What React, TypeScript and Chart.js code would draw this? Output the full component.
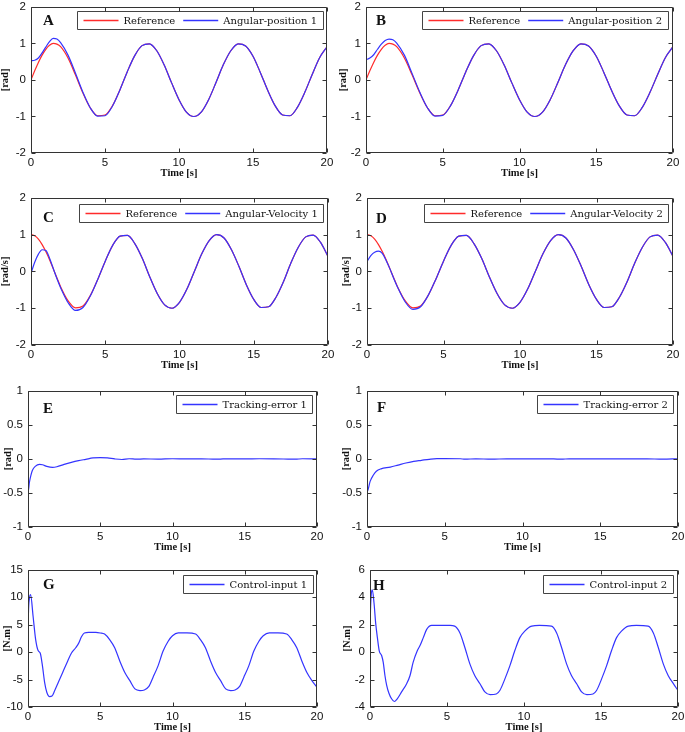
import React, { useEffect, useRef } from "react";
import { Chart, registerables } from "chart.js";
Chart.register(...registerables);

// ---------- data ----------
const TIME = [0, 0.25, 0.5, 0.75, 1, 1.25, 1.5, 1.75, 2, 2.5, 3, 3.5, 4, 4.5, 5, 5.5, 6, 6.5, 7, 7.5, 8, 8.5, 9, 9.5, 10, 10.5, 11, 11.5, 12, 12.5, 13, 13.5, 14, 14.5, 15, 15.5, 16, 16.5, 17, 17.5, 18, 18.5, 19, 19.5, 20];

const REF_POS = [0, 0.25, 0.48, 0.68, 0.84, 0.95, 1.0, 0.98, 0.91, 0.6, 0.14, -0.35, -0.76, -0.98, -0.96, -0.71, -0.28, 0.22, 0.66, 0.94, 0.99, 0.8, 0.41, -0.08, -0.54, -0.88, -1.0, -0.88, -0.54, -0.07, 0.42, 0.8, 0.99, 0.93, 0.65, 0.2, -0.29, -0.71, -0.96, -0.98, -0.75, -0.34, 0.15, 0.61, 0.91];
const POS_1 = [0.53, 0.54, 0.6, 0.74, 0.9, 1.05, 1.14, 1.12, 1.02, 0.68, 0.19, -0.33, -0.76, -0.99, -0.98, -0.72, -0.28, 0.22, 0.66, 0.94, 0.99, 0.8, 0.41, -0.08, -0.54, -0.88, -1.0, -0.88, -0.54, -0.07, 0.42, 0.8, 0.99, 0.93, 0.65, 0.2, -0.29, -0.71, -0.96, -0.98, -0.75, -0.34, 0.15, 0.61, 0.91];
const POS_2 = [0.55, 0.6, 0.69, 0.84, 0.98, 1.08, 1.12, 1.1, 1.01, 0.68, 0.18, -0.33, -0.76, -0.99, -0.97, -0.71, -0.28, 0.22, 0.66, 0.94, 0.99, 0.8, 0.41, -0.08, -0.54, -0.88, -1.0, -0.88, -0.54, -0.07, 0.42, 0.8, 0.99, 0.93, 0.65, 0.2, -0.29, -0.71, -0.96, -0.98, -0.75, -0.34, 0.15, 0.61, 0.91];

const REF_VEL = [1, 0.97, 0.88, 0.73, 0.54, 0.32, 0.07, -0.18, -0.42, -0.8, -0.99, -0.94, -0.65, -0.21, 0.28, 0.71, 0.96, 0.98, 0.75, 0.35, -0.15, -0.6, -0.91, -1.0, -0.84, -0.48, 0.0, 0.48, 0.84, 1.0, 0.91, 0.59, 0.14, -0.36, -0.76, -0.98, -0.96, -0.7, -0.28, 0.23, 0.66, 0.94, 0.99, 0.79, 0.41];
const VEL_1 = [-0.05, 0.25, 0.47, 0.59, 0.57, 0.36, 0.08, -0.2, -0.45, -0.85, -1.06, -0.98, -0.66, -0.21, 0.28, 0.71, 0.96, 0.98, 0.75, 0.35, -0.15, -0.6, -0.91, -1.0, -0.84, -0.48, 0.0, 0.48, 0.84, 1.0, 0.91, 0.59, 0.14, -0.36, -0.76, -0.98, -0.96, -0.7, -0.28, 0.23, 0.66, 0.94, 0.99, 0.79, 0.41];
const VEL_2 = [0.27, 0.43, 0.52, 0.55, 0.49, 0.3, 0.07, -0.19, -0.43, -0.83, -1.03, -0.96, -0.65, -0.21, 0.28, 0.71, 0.96, 0.98, 0.75, 0.35, -0.15, -0.6, -0.91, -1.0, -0.84, -0.48, 0.0, 0.48, 0.84, 1.0, 0.91, 0.59, 0.14, -0.36, -0.76, -0.98, -0.96, -0.7, -0.28, 0.23, 0.66, 0.94, 0.99, 0.79, 0.41];

const ERR1_T = [0, 0.01, 0.1, 0.2, 0.3, 0.5, 0.8, 1.0, 1.3, 1.7, 2.0, 2.5, 3.0, 3.5, 4.0, 4.5, 5.0, 5.5, 6.0, 6.5, 7.0, 7.5, 8.0, 9, 10, 11, 12, 13, 13.5, 14, 15, 16, 17, 18, 18.5, 19, 20];
const ERR1_V = [0.5, -0.48, -0.34, -0.24, -0.17, -0.11, -0.08, -0.085, -0.11, -0.125, -0.115, -0.08, -0.05, -0.025, -0.005, 0.015, 0.02, 0.015, 0.0, -0.008, 0.003, -0.003, 0.0, -0.002, 0.003, 0.0, 0.002, -0.004, 0.0, 0.002, 0.0, 0.003, 0.002, -0.002, -0.004, 0.003, 0.0];
const ERR2_T = [0, 0.01, 0.2, 0.4, 0.6, 0.9, 1.5, 2.0, 2.5, 3.0, 3.5, 4.0, 4.5, 5.0, 6, 6.3, 7, 8, 9, 10, 12, 12.5, 13, 14, 15, 16, 17, 18, 19, 20];
const ERR2_V = [0.5, -0.48, -0.33, -0.24, -0.18, -0.145, -0.12, -0.09, -0.06, -0.035, -0.02, -0.005, 0.005, 0.005, 0.003, -0.004, 0.002, -0.003, 0.002, 0.002, 0.0, -0.004, 0.002, 0.002, 0.0, 0.002, 0.002, 0.002, -0.003, 0.002];

const U1_T = [0, 0.03, 0.1, 0.18, 0.35, 0.53, 0.7, 0.85, 1.0, 1.15, 1.3, 1.5, 1.66, 1.85, 2.1, 2.4, 2.75, 3.0, 3.3, 3.5, 3.7, 3.9, 4.2, 4.7, 5.0, 5.3, 5.65, 6.0, 6.35, 6.7, 7.05, 7.4, 7.75, 8.05, 8.35, 8.65, 9.0, 9.35, 9.7, 10.0, 10.4, 11.0, 11.6, 11.93, 12.28, 12.63, 12.98, 13.33, 13.68, 14.03, 14.33, 14.63, 14.93, 15.28, 15.63, 15.98, 16.28, 16.7, 17.3, 17.9, 18.25, 18.6, 18.95, 19.3, 19.65, 20];
const U1_V = [1.5, 7.0, 9.8, 10.5, 6.6, 2.3, 0.3, -0.2, -2.5, -5.5, -7.3, -8.1, -8.0, -7.0, -5.5, -3.7, -1.6, -0.2, 0.8, 1.6, 2.8, 3.5, 3.6, 3.6, 3.5, 3.3, 2.3, 0.8, -1.6, -3.7, -5.2, -6.7, -7.0, -6.9, -6.3, -4.6, -2.5, 0.2, 2.0, 3.0, 3.5, 3.5, 3.3, 2.3, 0.8, -1.6, -3.7, -5.2, -6.7, -7.0, -6.9, -6.3, -4.6, -2.5, 0.2, 2.0, 3.0, 3.5, 3.5, 3.3, 2.3, 0.8, -1.6, -3.7, -5.2, -6.4];
const U2_T = [0, 0.03, 0.08, 0.15, 0.26, 0.37, 0.48, 0.6, 0.76, 0.86, 0.97, 1.08, 1.23, 1.4, 1.58, 1.77, 2.05, 2.38, 2.6, 2.8, 3.07, 3.24, 3.46, 3.68, 4.0, 4.6, 5.2, 5.5, 5.84, 6.16, 6.49, 6.8, 7.14, 7.46, 7.8, 8.2, 8.43, 8.76, 9.08, 9.4, 9.73, 10.05, 10.5, 11.0, 11.78, 12.12, 12.44, 12.77, 13.08, 13.42, 13.74, 14.08, 14.48, 14.71, 15.04, 15.36, 15.68, 16.01, 16.33, 16.78, 17.3, 18.06, 18.4, 18.72, 19.05, 19.36, 19.7, 20];
const U2_V = [1.5, 3.0, 4.2, 4.55, 3.6, 2.1, 1.06, 0.1, -0.26, -0.75, -1.7, -2.4, -3.0, -3.4, -3.6, -3.4, -2.9, -2.3, -1.7, -0.75, 0.1, 0.46, 1.06, 1.66, 1.95, 1.95, 1.95, 1.9, 1.4, 0.34, -0.87, -1.7, -2.3, -2.9, -3.1, -3.05, -2.8, -1.95, -1.0, 0.1, 1.06, 1.54, 1.9, 1.95, 1.9, 1.4, 0.34, -0.87, -1.7, -2.3, -2.9, -3.1, -3.05, -2.8, -1.95, -1.0, 0.1, 1.06, 1.54, 1.9, 1.95, 1.9, 1.4, 0.34, -0.87, -1.7, -2.3, -2.8];

const X_TICKS = [0, 5, 10, 15, 20];
const X_LABELS = ["0", "5", "10", "15", "20"];
const Y_TICKS_ANG = [-2, -1, 0, 1, 2];
const Y_LABELS_ANG = ["-2", "-1", "0", "1", "2"];
const Y_TICKS_ERR = [-1, -0.5, 0, 0.5, 1];
const Y_LABELS_ERR = ["-1", "-0.5", "0", "0.5", "1"];
const Y_TICKS_U1 = [-10, -5, 0, 5, 10, 15];
const Y_LABELS_U1 = ["-10", "-5", "0", "5", "10", "15"];
const Y_TICKS_U2 = [-4, -2, 0, 2, 4, 6];
const Y_LABELS_U2 = ["-4", "-2", "0", "2", "4", "6"];

const RED = "#ff2b2b";
const BLUE = "#3434ff";

// ---------- layout ----------
const PAD_L = 40, PAD_R = 12, PAD_T = 10, PAD_B = 32;

type Series = { label: string; color: string; t: number[]; v: number[]; top: boolean };
type Panel = {
  letter: string; L: number; R: number; T: number; B: number;
  yTicks: number[]; yLabels: string[]; yTitle: string; yTitleDx: number;
  letterDx: number; letterCy: number; legDy: number; legDr: number;
  series: Series[];
};

const PANELS: Panel[] = [
  { letter: "A", L: 31, R: 327, T: 5, B: 153, yTicks: Y_TICKS_ANG, yLabels: Y_LABELS_ANG, yTitle: "[rad]", yTitleDx: 26, letterDx: 12, letterCy: 13, legDy: 4, legDr: 4,
    series: [{ label: "Reference", color: RED, t: TIME, v: REF_POS, top: false }, { label: "Angular-position 1", color: BLUE, t: TIME, v: POS_1, top: true }] },
  { letter: "B", L: 366, R: 673, T: 5, B: 153, yTicks: Y_TICKS_ANG, yLabels: Y_LABELS_ANG, yTitle: "[rad]", yTitleDx: 23, letterDx: 10, letterCy: 13, legDy: 4, legDr: 5,
    series: [{ label: "Reference", color: RED, t: TIME, v: REF_POS, top: false }, { label: "Angular-position 2", color: BLUE, t: TIME, v: POS_2, top: true }] },
  { letter: "C", L: 31, R: 328, T: 196, B: 345, yTicks: Y_TICKS_ANG, yLabels: Y_LABELS_ANG, yTitle: "[rad/s]", yTitleDx: 26, letterDx: 12, letterCy: 19, legDy: 6, legDr: 5,
    series: [{ label: "Reference", color: RED, t: TIME, v: REF_VEL, top: false }, { label: "Angular-Velocity 1", color: BLUE, t: TIME, v: VEL_1, top: true }] },
  { letter: "D", L: 367, R: 673, T: 196, B: 345, yTicks: Y_TICKS_ANG, yLabels: Y_LABELS_ANG, yTitle: "[rad/s]", yTitleDx: 21, letterDx: 9, letterCy: 20, legDy: 6, legDr: 5,
    series: [{ label: "Reference", color: RED, t: TIME, v: REF_VEL, top: false }, { label: "Angular-Velocity 2", color: BLUE, t: TIME, v: VEL_2, top: true }] },
  { letter: "E", L: 28, R: 317, T: 389, B: 527, yTicks: Y_TICKS_ERR, yLabels: Y_LABELS_ERR, yTitle: "[rad]", yTitleDx: 20, letterDx: 15, letterCy: 17, legDy: 4, legDr: 5,
    series: [{ label: "Tracking-error 1", color: BLUE, t: ERR1_T, v: ERR1_V, top: true }] },
  { letter: "F", L: 367, R: 678, T: 389, B: 527, yTicks: Y_TICKS_ERR, yLabels: Y_LABELS_ERR, yTitle: "[rad]", yTitleDx: 21, letterDx: 10, letterCy: 16, legDy: 4, legDr: 5,
    series: [{ label: "Tracking-error 2", color: BLUE, t: ERR2_T, v: ERR2_V, top: true }] },
  { letter: "G", L: 28, R: 317, T: 568, B: 707, yTicks: Y_TICKS_U1, yLabels: Y_LABELS_U1, yTitle: "[N.m]", yTitleDx: 21, letterDx: 15, letterCy: 14, legDy: 5, legDr: 4,
    series: [{ label: "Control-input 1", color: BLUE, t: U1_T, v: U1_V, top: true }] },
  { letter: "H", L: 370, R: 678, T: 568, B: 707, yTicks: Y_TICKS_U2, yLabels: Y_LABELS_U2, yTitle: "[N.m]", yTitleDx: 23, letterDx: 3, letterCy: 15, legDy: 5, legDr: 5,
    series: [{ label: "Control-input 2", color: BLUE, t: U2_T, v: U2_V, top: true }] },
];

const TICK_FONT = "Arial, 'Liberation Sans', Helvetica, sans-serif";
const SERIF = "'Liberation Serif', 'Times New Roman', serif";
const LEG_FONT = "10px 'DejaVu Serif', serif";

const framePlugin = {
  id: "frame",
  afterDatasetsDraw(chart: any, _args: any, o: any) {
    const { ctx, chartArea: a, scales } = chart;
    const p: Panel = o.panel;
    ctx.save();

    // legend box
    ctx.font = LEG_FONT;
    const items = p.series.map((s) => ({ s, w: ctx.measureText(s.label).width }));
    const lineLen = 35, gapLT = 5, gapItems = 8, padL = 6, padR = 6, boxH = 18;
    let boxW = padL + padR;
    items.forEach((it, i) => { boxW += lineLen + gapLT + it.w + (i > 0 ? gapItems : 0); });
    boxW = Math.round(boxW);
    const bx = Math.round(a.right - p.legDr - boxW) + 0.5;
    const by = Math.round(a.top + p.legDy) + 0.5;
    ctx.fillStyle = "#ffffff";
    ctx.fillRect(bx, by, boxW, boxH);
    ctx.beginPath();
    ctx.strokeStyle = "#444";
    ctx.lineWidth = 1;
    ctx.rect(bx, by, boxW, boxH);
    ctx.stroke();
    let cx = bx + padL;
    const cy = by + boxH / 2;
    items.forEach((it, i) => {
      if (i > 0) cx += gapItems;
      ctx.beginPath();
      ctx.strokeStyle = it.s.color;
      ctx.lineWidth = 1.3;
      ctx.moveTo(cx, cy);
      ctx.lineTo(cx + lineLen, cy);
      ctx.stroke();
      cx += lineLen + gapLT;
      ctx.fillStyle = "#111";
      ctx.textBaseline = "middle";
      ctx.textAlign = "left";
      ctx.fillText(it.s.label, cx, cy + 0.5);
      cx += it.w;
    });

    // axes box with inward ticks
    const l = Math.round(a.left) + 0.5, r = Math.round(a.right) - 0.5;
    const t = Math.round(a.top) + 0.5, b = Math.round(a.bottom) - 0.5;
    ctx.beginPath();
    ctx.strokeStyle = "#333";
    ctx.lineWidth = 1;
    ctx.rect(l, t, r - l, b - t);
    const tl = 4;
    X_TICKS.forEach((v) => {
      const x = Math.round(scales.x.getPixelForValue(v)) + 0.5;
      ctx.moveTo(x, b); ctx.lineTo(x, b - tl);
      ctx.moveTo(x, t); ctx.lineTo(x, t + tl);
    });
    p.yTicks.forEach((v) => {
      const y = Math.round(scales.y.getPixelForValue(v)) + 0.5;
      ctx.moveTo(l, y); ctx.lineTo(l + tl, y);
      ctx.moveTo(r, y); ctx.lineTo(r - tl, y);
    });
    ctx.stroke();

    // panel letter
    ctx.fillStyle = "#111";
    ctx.font = `bold 15px ${SERIF}`;
    ctx.textAlign = "left";
    ctx.textBaseline = "alphabetic";
    ctx.fillText(p.letter, a.left + p.letterDx, a.top + p.letterCy + 5);

    // axis titles
    ctx.font = `bold 10.5px ${SERIF}`;
    ctx.textAlign = "center";
    ctx.textBaseline = "middle";
    ctx.fillText("Time [s]", (a.left + a.right) / 2, a.bottom + 20);
    ctx.save();
    ctx.translate(a.left - p.yTitleDx, (a.top + a.bottom) / 2);
    ctx.rotate(-Math.PI / 2);
    ctx.fillText(p.yTitle, 0, 0);
    ctx.restore();

    ctx.restore();
  },
};

function PanelChart({ p }: { p: Panel }) {
  const ref = useRef<HTMLCanvasElement>(null);
  const w = p.R - p.L + PAD_L + PAD_R;
  const h = p.B - p.T + PAD_T + PAD_B;
  useEffect(() => {
    const yMin = p.yTicks[0], yMax = p.yTicks[p.yTicks.length - 1];
    const chart = new Chart(ref.current as HTMLCanvasElement, {
      type: "line",
      data: {
        datasets: p.series.map((s) => ({
          label: s.label,
          data: s.t.map((x, k) => ({ x, y: s.v[k] })),
          borderColor: s.color,
          borderWidth: 1.2,
          pointRadius: 0,
          fill: false,
          cubicInterpolationMode: "monotone" as const,
          order: s.top ? 0 : 1,
        })),
      },
      options: {
        animation: false,
        responsive: false,
        devicePixelRatio: 1,
        events: [],
        layout: { padding: { left: 0, top: PAD_T, right: PAD_R, bottom: 0 } },
        plugins: { legend: { display: false }, tooltip: { enabled: false }, frame: { panel: p } } as any,
        scales: {
          x: {
            type: "linear",
            min: 0,
            max: 20,
            grid: { display: false, drawTicks: false },
            border: { display: false },
            afterBuildTicks: (s: any) => { s.ticks = X_TICKS.map((v) => ({ value: v })); },
            afterFit: (s: any) => { s.height = PAD_B; },
            ticks: {
              padding: 3,
              maxRotation: 0,
              autoSkip: false,
              color: "#111",
              font: { family: TICK_FONT, size: 11.5 },
              callback: (v: any) => X_LABELS[X_TICKS.indexOf(Number(v))] ?? String(v),
            },
          },
          y: {
            type: "linear",
            min: yMin,
            max: yMax,
            grid: { display: false, drawTicks: false },
            border: { display: false },
            afterBuildTicks: (s: any) => { s.ticks = p.yTicks.map((v) => ({ value: v })); },
            afterFit: (s: any) => { s.width = PAD_L; },
            ticks: {
              padding: 5,
              autoSkip: false,
              color: "#111",
              font: { family: TICK_FONT, size: 11.5 },
              callback: (v: any) => p.yLabels[p.yTicks.indexOf(Number(v))] ?? String(v),
            },
          },
        },
      },
      plugins: [framePlugin],
    });
    return () => chart.destroy();
  }, [p]);
  return (
    <canvas
      ref={ref}
      width={w}
      height={h}
      style={{ position: "absolute", left: p.L - PAD_L, top: p.T - PAD_T, width: w, height: h }}
    />
  );
}

export default function App() {
  return (
    <div style={{ position: "fixed", left: 0, top: 0, width: 685, height: 732, background: "#fff", overflow: "hidden" }}>
      {PANELS.map((p) => (
        <PanelChart key={p.letter} p={p} />
      ))}
    </div>
  );
}
